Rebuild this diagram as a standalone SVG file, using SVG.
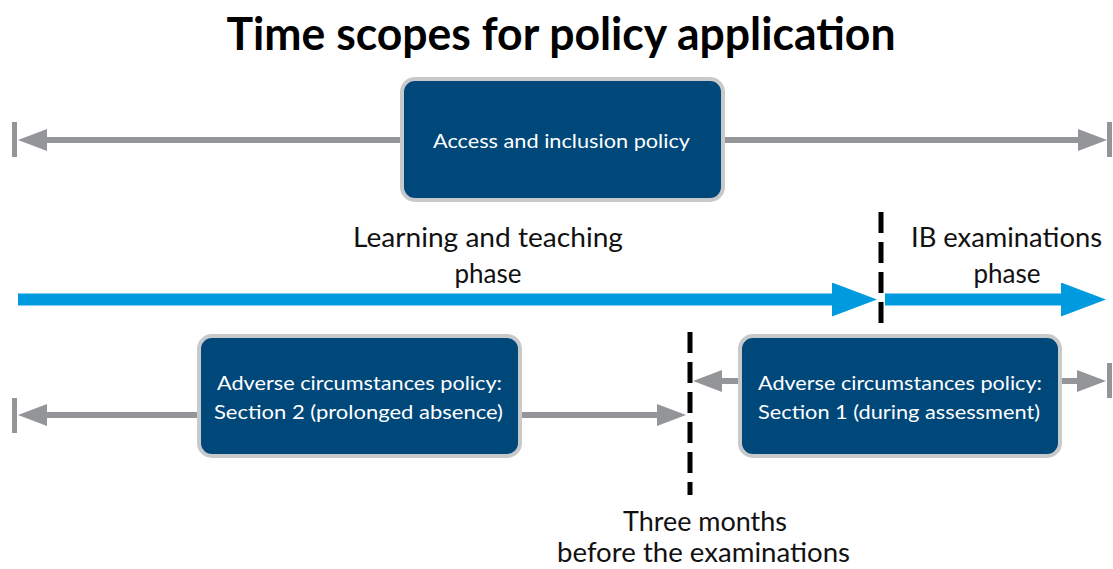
<svg xmlns="http://www.w3.org/2000/svg" width="1113" height="569" viewBox="0 0 1113 569">
  <style>
    .title { font-family: "Lato", "Liberation Sans", sans-serif; font-weight: 700; font-size: 45px; fill: #000; text-anchor: middle; }
    .label { font-family: "Lato", "Liberation Sans", sans-serif; font-size: 26px; fill: #111; text-anchor: middle; }
    .boxtext { font-family: "Lato", "Liberation Sans", sans-serif; font-size: 20px; fill: #fff; text-anchor: middle; }
    .box { fill: #00477a; stroke: #c8c9cb; stroke-width: 4; }
    .gray { stroke: #939598; stroke-width: 6; fill: none; }
    .stop { fill: #939598; }
    .blue { stroke: #009ade; stroke-width: 12; fill: none; }
    .cut { stroke: #000; stroke-width: 5; stroke-dasharray: 21 9; fill: none; }
  </style>
  <defs>
    <marker id="head-gray" markerUnits="userSpaceOnUse" markerWidth="29" markerHeight="22" viewBox="0 0 29 22" refX="0" refY="11" orient="auto-start-reverse">
      <path d="M0,0 L29,11 L0,22 z" fill="#939598"/>
    </marker>
    <marker id="head-blue" markerUnits="userSpaceOnUse" markerWidth="45" markerHeight="34" viewBox="0 0 45 34" refX="0" refY="17" orient="auto">
      <path d="M0,0 L45,17 L0,34 z" fill="#009ade"/>
    </marker>
  </defs>

  <text class="title" x="561" y="50" textLength="669" lengthAdjust="spacingAndGlyphs">Time scopes for policy application</text>

  <g id="connectors">
    <!-- access and inclusion policy span -->
    <rect class="stop" x="12" y="122" width="5" height="35"/>
    <line class="gray" x1="400" y1="140" x2="47" y2="140" marker-end="url(#head-gray)"/>
    <line class="gray" x1="725" y1="140" x2="1078" y2="140" marker-end="url(#head-gray)"/>
    <rect class="stop" x="1107" y="122" width="5" height="35"/>

    <!-- phase timeline -->
    <line class="blue" x1="18" y1="299.5" x2="832" y2="299.5" marker-end="url(#head-blue)"/>
    <line class="blue" x1="885" y1="299.5" x2="1061" y2="299.5" marker-end="url(#head-blue)"/>

    <!-- phase boundaries -->
    <line class="cut" x1="881" y1="212" x2="881" y2="323"/>
    <line class="cut" x1="690" y1="332" x2="690" y2="495"/>

    <!-- section 2 span -->
    <rect class="stop" x="12" y="398" width="5" height="35"/>
    <line class="gray" x1="198" y1="415" x2="47" y2="415" marker-end="url(#head-gray)"/>
    <line class="gray" x1="522" y1="415" x2="657" y2="415" marker-end="url(#head-gray)"/>

    <!-- section 1 span -->
    <line class="gray" x1="738" y1="381" x2="722" y2="381" marker-end="url(#head-gray)"/>
    <line class="gray" x1="1062" y1="381" x2="1077" y2="381" marker-end="url(#head-gray)"/>
    <rect class="stop" x="1107" y="363" width="5" height="35"/>
  </g>

  <g id="access-inclusion">
    <rect class="box" x="402" y="79" width="321" height="121" rx="13"/>
    <text class="boxtext" x="561.5" y="148" textLength="257" lengthAdjust="spacingAndGlyphs">Access and inclusion policy</text>
  </g>

  <g id="adverse-section-2">
    <rect class="box" x="199" y="336" width="321" height="120" rx="13"/>
    <text class="boxtext" x="359.5" y="390" textLength="285" lengthAdjust="spacingAndGlyphs">Adverse circumstances policy:</text>
    <text class="boxtext" x="358.5" y="419" textLength="289" lengthAdjust="spacingAndGlyphs">Section 2 (prolonged absence)</text>
  </g>

  <g id="adverse-section-1">
    <rect class="box" x="740" y="336" width="320" height="120" rx="13"/>
    <text class="boxtext" x="900" y="390" textLength="284" lengthAdjust="spacingAndGlyphs">Adverse circumstances policy:</text>
    <text class="boxtext" x="899" y="419" textLength="282" lengthAdjust="spacingAndGlyphs">Section 1 (during assessment)</text>
  </g>

  <g id="learning-phase">
    <text class="label" x="488" y="247" textLength="270" lengthAdjust="spacingAndGlyphs">Learning and teaching</text>
    <text class="label" x="488" y="283">phase</text>
  </g>

  <g id="exam-phase">
    <text class="label" x="1006.5" y="247" textLength="191" lengthAdjust="spacingAndGlyphs">IB examinations</text>
    <text class="label" x="1007" y="283">phase</text>
  </g>

  <g id="three-months">
    <text class="label" x="705" y="531" textLength="164" lengthAdjust="spacingAndGlyphs">Three months</text>
    <text class="label" x="703.5" y="562" textLength="293" lengthAdjust="spacingAndGlyphs">before the examinations</text>
  </g>
</svg>
